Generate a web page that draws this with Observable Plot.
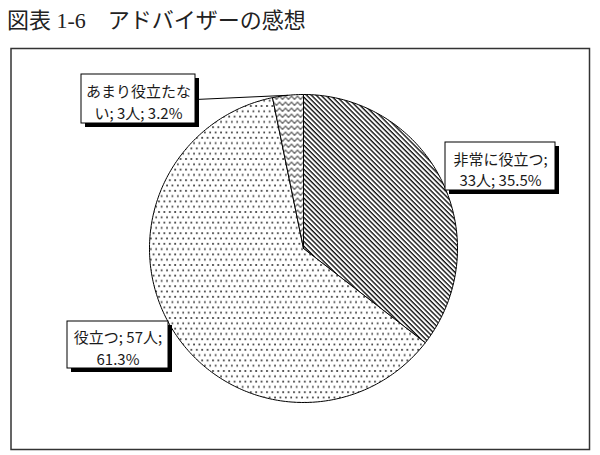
<!DOCTYPE html>
<html><head><meta charset="utf-8">
<script src="https://cdn.jsdelivr.net/npm/d3@7"></script>
<script src="https://cdn.jsdelivr.net/npm/@observablehq/plot@0.6"></script>
<style>
html,body{margin:0;padding:0;background:#fff;width:600px;height:455px;overflow:hidden;}
#title{position:absolute;left:7px;top:7px;font-size:22px;font-family:"Liberation Serif","Noto Sans CJK JP",serif;color:#222;white-space:pre;line-height:28px;}
#chart{position:absolute;left:0;top:40px;}
</style></head><body>
<div id="title">図表 1-6　アドバイザーの感想</div>
<div id="chart"></div>
<script>
// ---- data ----
const categories = ["非常に役立つ", "役立つ", "あまり役立たない"];
const counts = [33, 57, 3];
const percents = [35.5, 61.3, 3.2];
const labelTexts = ["非常に役立つ;\n33人; 35.5%", "役立つ; 57人;\n61.3%", "あまり役立たな\nい; 3人; 3.2%"];
const patternIds = ["hatch", "dots", "zigzag"];

// ---- layout (page pixels) ----
const W = 600, H = 415, TOP = 40;
const CX = 303, CY = 248, R = 154;
const boxes = [
  {x1: 445, x2: 555, y1: 142, y2: 190},
  {x1: 67, x2: 168, y1: 321, y2: 368},
  {x1: 81, x2: 195, y1: 74, y2: 123}
];
const leaderStart = [null, null, {x: 195, y: 99}];
const toX = px => (px - CX) / R;
const toY = py => (CY - py) / R;

// ---- geometry from data ----
const arcs = d3.pie().sort(null).value(d => d)(counts);
const slices = arcs.map((p, i) => {
  const pts = [{x: 0, y: 0}];
  const n = Math.max(2, Math.ceil((p.endAngle - p.startAngle) / (Math.PI / 180)));
  for (let k = 0; k <= n; k++) {
    const a = p.startAngle + (p.endAngle - p.startAngle) * k / n;
    pts.push({x: Math.sin(a), y: Math.cos(a)});
  }
  pts.push({x: 0, y: 0});
  return pts;
});
const boxData = boxes.map((b, i) => ({
  x1: toX(b.x1), x2: toX(b.x2), y1: toY(b.y1), y2: toY(b.y2),
  cx: toX((b.x1 + b.x2) / 2), cy: toY((b.y1 + b.y2) / 2 + 2),
  text: labelTexts[i], name: categories[i]
}));
const leaders = [];
arcs.forEach((p, i) => {
  if (leaderStart[i]) {
    const m = (p.startAngle + p.endAngle) / 2;
    leaders.push({x1: toX(leaderStart[i].x), y1: toY(leaderStart[i].y), x2: Math.sin(m), y2: Math.cos(m)});
  }
});

const marks = [
  Plot.frame({stroke: "#333", strokeWidth: 1.5})
];
slices.forEach((s, i) => {
  marks.push(Plot.line(s, {x: "x", y: "y", fill: `url(#${patternIds[i]})`, stroke: "#000", strokeWidth: 1, curve: "linear"}));
});
marks.push(
  Plot.link(leaders, {x1: "x1", y1: "y1", x2: "x2", y2: "y2", stroke: "#000", strokeWidth: 1}),
  Plot.rect(boxData, {x1: "x1", x2: "x2", y1: "y1", y2: "y2", fill: "#000", dx: 4, dy: 4}),
  Plot.rect(boxData, {x1: "x1", x2: "x2", y1: "y1", y2: "y2", fill: "#fff", stroke: "#000", strokeWidth: 1}),
  Plot.text(boxData, {x: "cx", y: "cy", text: "text", fill: "#1a1a1a", fontSize: 15, lineHeight: 1.45, lineAnchor: "middle", textAnchor: "middle", fontFamily: "Noto Sans CJK JP"})
);

const chart = Plot.plot({
  width: W, height: H,
  marginLeft: 10.5, marginRight: 11, marginTop: 8, marginBottom: 6,
  x: {type: "linear", domain: [-1, 1], range: [CX - R, CX + R], axis: null},
  y: {type: "linear", domain: [-1, 1], range: [CY - TOP + R, CY - TOP - R], axis: null},
  style: {fontFamily: "Noto Sans CJK JP", background: "#fff"},
  marks
});

const svg = d3.select(chart);
const defs = svg.insert("defs", ":first-child");
// diagonal hatch
const ph = defs.append("pattern").attr("id", "hatch").attr("patternUnits", "userSpaceOnUse")
  .attr("width", 3.4).attr("height", 3.4).attr("patternTransform", "rotate(-45)");
ph.append("rect").attr("width", 3.4).attr("height", 3.4).attr("fill", "#fff");
ph.append("line").attr("x1", 1).attr("y1", 0).attr("x2", 1).attr("y2", 3.4).attr("stroke", "#000").attr("stroke-width", 1.3);
// dots
const pd = defs.append("pattern").attr("id", "dots").attr("patternUnits", "userSpaceOnUse")
  .attr("width", 5.4).attr("height", 10.6);
pd.append("rect").attr("width", 5.4).attr("height", 10.6).attr("fill", "#fff");
pd.append("rect").attr("x", 1).attr("y", 1).attr("width", 1.8).attr("height", 1.8).attr("fill", "#444");
pd.append("rect").attr("x", 3.7).attr("y", 6.3).attr("width", 1.8).attr("height", 1.8).attr("fill", "#444");
// zigzag
const pz = defs.append("pattern").attr("id", "zigzag").attr("patternUnits", "userSpaceOnUse")
  .attr("width", 6).attr("height", 6);
pz.append("rect").attr("width", 6).attr("height", 6).attr("fill", "#fff");
pz.append("path").attr("d", "M0,5 L3,1.5 L6,5").attr("fill", "none").attr("stroke", "#000").attr("stroke-width", 1);

document.getElementById("chart").appendChild(chart);
</script>
</body></html>
